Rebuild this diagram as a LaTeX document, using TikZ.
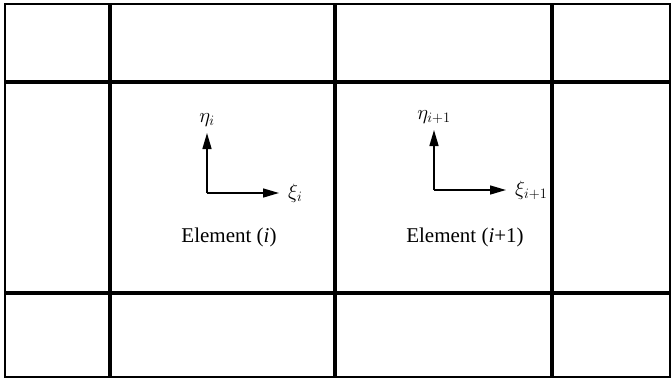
\documentclass[tikz,border=0pt]{standalone}
\usepackage{fontspec}
\setmainfont{Liberation Serif}
\usepackage{tikz}
\usetikzlibrary{arrows.meta, positioning}
\tikzstyle{frame}   = [line width=1.8pt]
\tikzstyle{gridln}  = [line width=3.2pt]
\tikzstyle{axis}    = [-{Triangle[length=16pt,width=9pt]}, line width=1.5pt]
\tikzstyle{lbl}     = [inner sep=0pt, font=\fontsize{21}{24}\selectfont]

\begin{document}
\begin{tikzpicture}[x=1pt, y=-1pt]

  \useasboundingbox (0,0) rectangle (672,380);

  % mesh
  \draw[frame] (5,4) rectangle (670,377);
  \draw[gridln] (5,82) -- (670,82);
  \draw[gridln] (5,293) -- (670,293);
  \foreach \x in {110,335,552}
    \draw[gridln] (\x,4) -- (\x,377);

  % element (i)
  \coordinate (o1) at (207,193);
  \coordinate (o1y) at (207,133);
  \coordinate (o1x) at (279,193);
  \draw[axis] (o1) -- (o1y);
  \draw[axis] (o1) -- (o1x);
  \node[lbl, above=6pt of o1y] (eta1) {$\eta_i$};
  \node[lbl, right=9pt of o1x] (xi1) {$\xi_i$};
  \node[lbl] (el1) at (229,237) {Element (\textit{i})};

  % element (i+1)
  \coordinate (o2) at (434,190);
  \coordinate (o2y) at (434,130);
  \coordinate (o2x) at (506,190);
  \draw[axis] (o2) -- (o2y);
  \draw[axis] (o2) -- (o2x);
  \node[lbl, above=6pt of o2y] (eta2) {$\eta_{i{+}1}$};
  \node[lbl, right=9pt of o2x] (xi2) {$\xi_{i{+}1}$};
  \node[lbl] (el2) at (465,237) {Element (\textit{i}+1)};

\end{tikzpicture}
\end{document}
